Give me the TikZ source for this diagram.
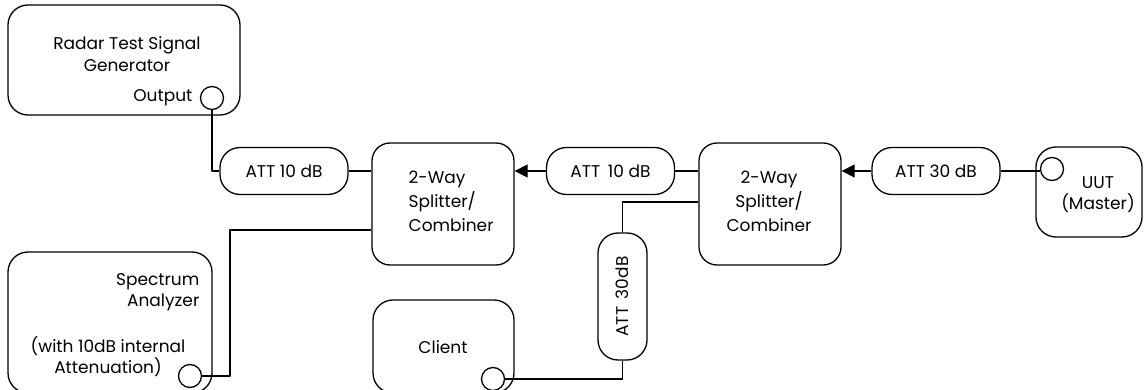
\documentclass[tikz,border=0pt]{standalone}
\usepackage{fontspec}
\setmainfont{Poppins}
\usetikzlibrary{arrows.meta}
\begin{document}
\begin{tikzpicture}[x=1pt,y=-1pt,
  line width=1.3pt, line join=round,
  bigbox/.style={draw, rounded corners=20pt, inner sep=0pt},
  attbox/.style={draw, rounded corners=20pt, inner sep=0pt, minimum width=128pt, minimum height=47pt, font=\fontsize{17}{22}\selectfont},
  port/.style={draw, circle, minimum size=23pt, inner sep=0pt},
  lbl/.style={font=\fontsize{17}{22}\selectfont, inner sep=0pt},
  arr/.style={-{Triangle[length=13pt,width=13pt]}}
]
\useasboundingbox (0,0) rectangle (1145,390);
\clip (0,0) rectangle (1145,390);

% Radar test signal generator
\node[bigbox, minimum width=232pt, minimum height=110pt] (rtsg) at (124,60) {};
\node[lbl, align=center] (rtsgt) at (127,54) {Radar Test Signal\\Generator};
\node[lbl, anchor=east] (outl) at (193,98) {Output};
\node[port] (outp) at (212,98) {};

% chain
\node[attbox] (att1) at (284,171) {ATT 10 dB};
\node[bigbox, rounded corners=18pt, minimum width=142pt, minimum height=122pt] (spl1) at (443,204) {};
\node[lbl, align=left, anchor=west, font=\fontsize{17}{24}\selectfont] (spl1t) at (408,201) {2-Way\\Splitter/\\Combiner};
\node[attbox] (att2) at (610.5,171) {ATT\hspace{0.45em}10 dB};
\node[bigbox, rounded corners=18pt, minimum width=142pt, minimum height=122pt] (spl2) at (770,204) {};
\node[lbl, align=center, font=\fontsize{17}{24}\selectfont] (spl2t) at (769,201) {2-Way\\Splitter/\\Combiner};
\node[attbox] (att3) at (936,171) {ATT 30 dB};

% UUT
\node[bigbox, minimum width=106pt, minimum height=90pt] (uut) at (1089,192) {};
\node[port] (uutp) at (1052,169) {};
\node[lbl, align=center, font=\fontsize{17}{21}\selectfont] (uutt) at (1098,194.5) {UUT\\(Master)};

% vertical attenuator
\node[attbox, minimum width=49pt, minimum height=127pt] (att4) at (622.5,296.5) {};
\node[lbl, rotate=90] (att4t) at (att4.center) {ATT\hspace{0.45em}30dB};

% Client
\node[bigbox, minimum width=141pt, minimum height=93pt] (cli) at (443.5,346.5) {};
\node[lbl] (clit) at (443,347) {Client};
\node[port] (clip) at (493,379) {};

% Spectrum analyzer
\node[bigbox, minimum width=204pt, minimum height=141pt] (sa) at (110,322.5) {};
\node[lbl, align=right, anchor=east, font=\fontsize{17}{21}\selectfont] (sat1) at (200,292.5) {Spectrum\\Analyzer};
\node[lbl, align=center, font=\fontsize{17}{21}\selectfont] (sat2) at (108,357) {(with 10dB internal\\Attenuation)};
\node[port] (sap) at (190,376) {};

% connectors
\coordinate (k1) at (230,230);
\coordinate (k2) at (623,202);
\draw (outp.south) |- (att1.west);
\draw (att1.east) -- (att1.east -| spl1.west);
\draw[arr] (att2.west) -- (att2.west -| spl1.east);
\draw (att2.east) -- (att2.east -| spl2.west);
\draw[arr] (att3.west) -- (att3.west -| spl2.east);
\draw (att3.east) -- (att3.east -| uutp.west);
\draw (spl2.west |- k2) -| (att4.north);
\draw (att4.south) |- (clip.east);
\draw (spl1.west |- k1) -- (k1) |- (sap.east);
\end{tikzpicture}
\end{document}
